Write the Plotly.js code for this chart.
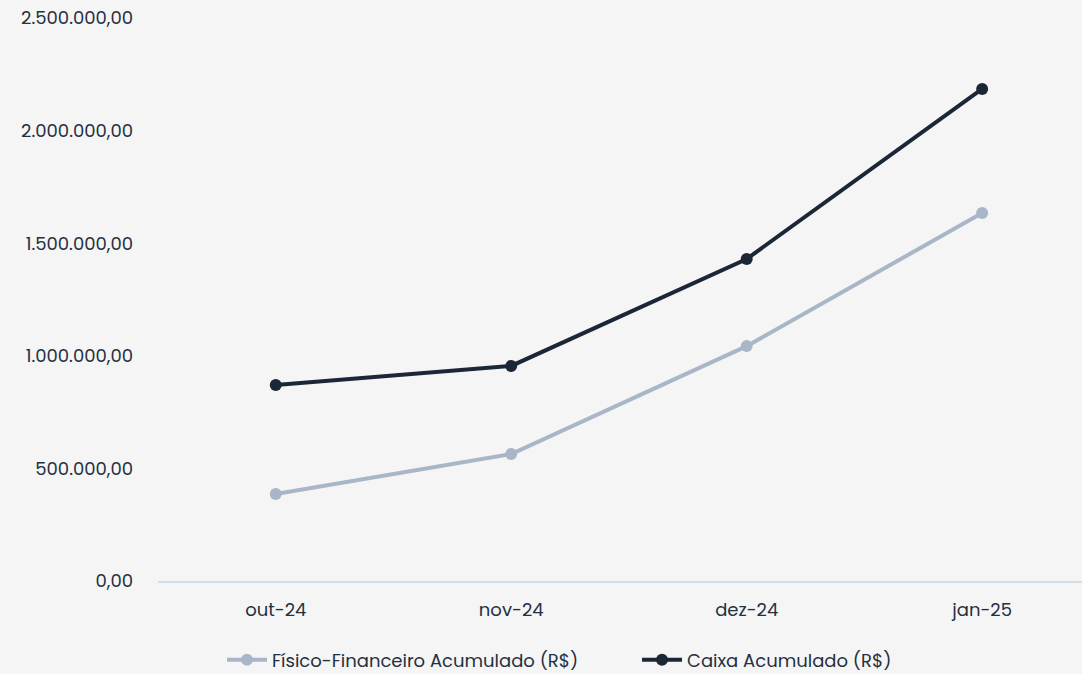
<!DOCTYPE html>
<html>
<head>
<meta charset="utf-8">
<script src="https://cdn.plot.ly/plotly-3.0.1.min.js"></script>
<style>html,body{margin:0;padding:0;background:#f5f5f5;}#chart{width:1082px;height:674px;}</style>
</head>
<body>
<div id="chart"></div>
<script>
const categories = ["out-24", "nov-24", "dez-24", "jan-25"];
const fisicoFinanceiro = [386000, 564000, 1043000, 1634000];
const caixa = [870000, 955000, 1430000, 2185000];
const seriesNames = ["Físico-Financeiro Acumulado (R$)", "Caixa Acumulado (R$)"];
const yTicks = [0, 500000, 1000000, 1500000, 2000000, 2500000];

const fontFam = "Poppins, Inter, 'Open Sans', sans-serif";
const textColor = "#253040";

const traces = [
  {x: categories, y: fisicoFinanceiro, name: seriesNames[0], type: "scatter", mode: "lines+markers",
   line: {color: "#a9b6c8", width: 4}, marker: {color: "#a9b6c8", size: 12}},
  {x: categories, y: caixa, name: seriesNames[1], type: "scatter", mode: "lines+markers",
   line: {color: "#1b2637", width: 4}, marker: {color: "#1b2637", size: 12}}
];

const layout = {
  width: 1082, height: 674,
  paper_bgcolor: "#f5f5f5", plot_bgcolor: "#f5f5f5",
  separators: ",.",
  font: {family: fontFam, size: 18, color: textColor},
  margin: {l: 158, r: 0, t: 18, b: 93},
  showlegend: true,
  legend: {orientation: "h", xref: "container", yref: "container",
           x: 222 / 1082, xanchor: "left", y: 1 - 660 / 674, yanchor: "middle",
           font: {size: 18, color: textColor}, itemwidth: 40, tracegroupgap: 0,
           entrywidth: 360, entrywidthmode: "pixels"},
  xaxis: {type: "category", range: [-0.5, 3.424], showgrid: false, zeroline: false,
          showline: true, linecolor: "#d3dde9", linewidth: 1.5, ticks: "",
          ticklabelstandoff: 12,
          tickfont: {size: 18, color: textColor}},
  yaxis: {range: [0, 2500000], tickvals: yTicks, tickformat: ",.2f", showgrid: false,
          zeroline: false, showline: false, ticks: "", ticklabelstandoff: 24,
          tickfont: {size: 18, color: textColor}}
};

Plotly.newPlot("chart", traces, layout, {displayModeBar: false, staticPlot: true});
</script>
</body>
</html>
